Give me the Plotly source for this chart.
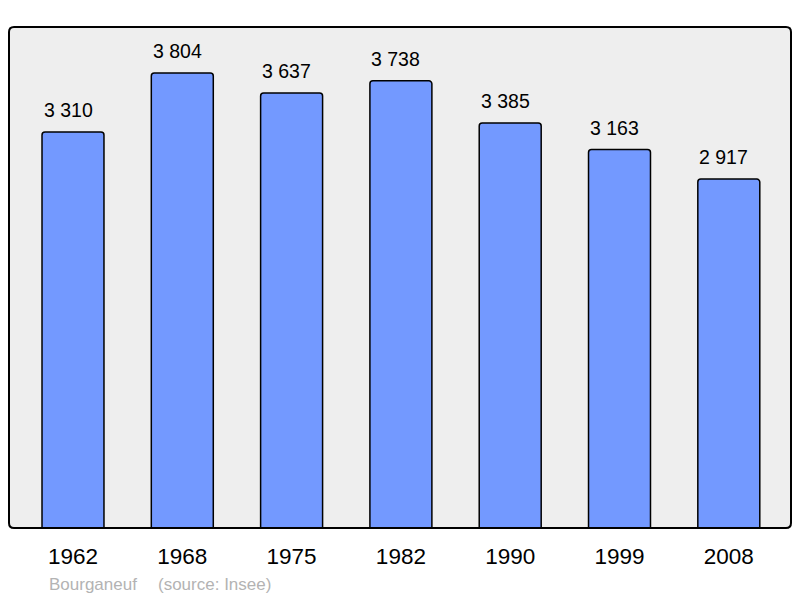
import plotly.graph_objects as go

years = ["1962", "1968", "1975", "1982", "1990", "1999", "2008"]
population = [3310, 3804, 3637, 3738, 3385, 3163, 2917]
labels = ["3 310", "3 804", "3 637", "3 738", "3 385", "3 163", "2 917"]
town = "Bourganeuf"
source = "(source: Insee)"

# page body has 8px margin; figure occupies (8,8)-(800,598)
OFF = 8
W, H = 800 - OFF, 598 - OFF
ml, mr, mt, mb = 9 - OFF, 9, 27 - OFF, 70
pw, ph = W - ml - mr, H - mt - mb

FONT = "Liberation Sans, Arial, sans-serif"
xs = list(range(len(years)))

fig = go.Figure()
fig.add_trace(go.Bar(
    x=xs, y=population, width=0.567,
    marker=dict(color="#7399ff", line=dict(color="#000000", width=1.5), cornerradius=3),
    hoverinfo="skip",
))

for x, y, t in zip(xs, population, labels):
    fig.add_annotation(x=x, y=y, text=t, showarrow=False, yanchor="bottom", yshift=9,
                       xshift=-5, font=dict(family=FONT, size=19.5, color="#000"))

# rounded frame
r = 5
rx, ry = r / pw, r / ph
path = (f"M {rx} 0 L {1-rx} 0 Q 1 0 1 {ry} L 1 {1-ry} Q 1 1 {1-rx} 1 "
        f"L {rx} 1 Q 0 1 0 {1-ry} L 0 {ry} Q 0 0 {rx} 0 Z")
fig.add_shape(type="path", path=path, xref="paper", yref="paper",
              line=dict(color="#000", width=2), fillcolor="rgba(0,0,0,0)", layer="above")

def px_x(x):
    return (x - OFF - ml) / pw

def px_y(y):
    return (H - (y - OFF) - mb) / ph

fig.add_annotation(x=px_x(48), y=px_y(584), xref="paper", yref="paper",
                   text=town, showarrow=False, xanchor="left", yanchor="middle", borderpad=0,
                   font=dict(family=FONT, size=17, color="#b3b3b3"))
fig.add_annotation(x=px_x(157), y=px_y(584), xref="paper", yref="paper",
                   text=source, showarrow=False, xanchor="left", yanchor="middle", borderpad=0,
                   font=dict(family=FONT, size=17, color="#b3b3b3"))

fig.update_layout(
    width=W, height=H,
    margin=dict(l=ml, r=mr, t=mt, b=mb, pad=0),
    paper_bgcolor="#ffffff", plot_bgcolor="#eeeeee",
    showlegend=False,
    xaxis=dict(range=[-0.5855, 6.569], tickmode="array", tickvals=xs, ticktext=years,
               showgrid=False, zeroline=False, showline=False, ticks="",
               ticklabelstandoff=12,
               tickfont=dict(family=FONT, size=22.5, color="#000")),
    yaxis=dict(range=[0, 4188], showgrid=False, zeroline=False, showticklabels=False,
               showline=False, ticks=""),
)
fig.write_html("out.html")
